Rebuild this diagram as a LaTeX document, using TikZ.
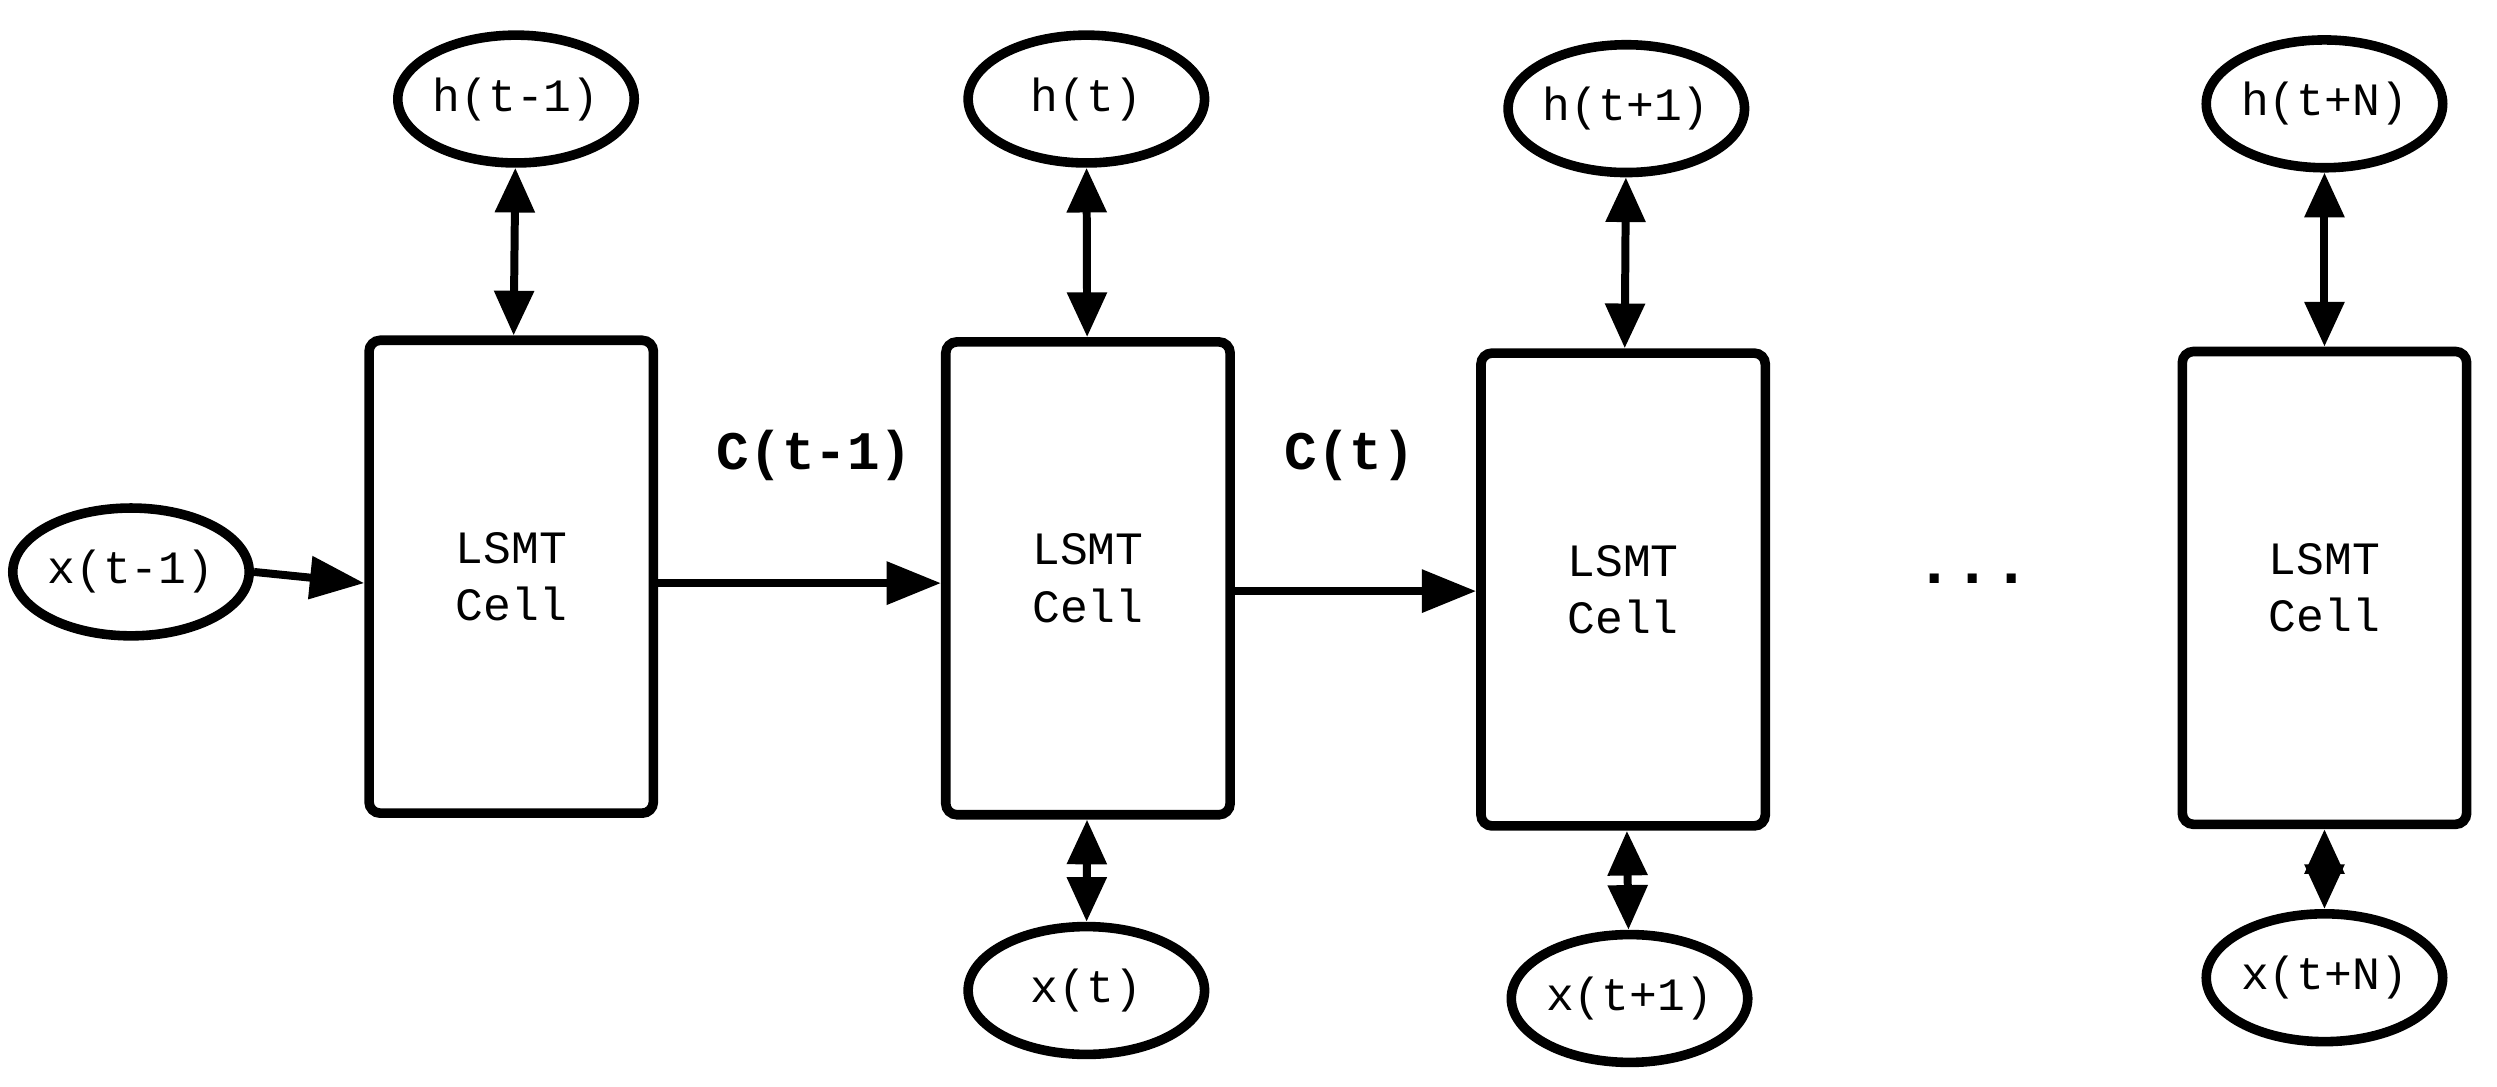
\documentclass[tikz,border=0pt]{standalone}
\usepackage{fontspec}
\setmainfont{Liberation Mono}
\usetikzlibrary{arrows.meta,shapes.geometric}
\begin{document}
\begin{tikzpicture}[x=1pt,y=-1pt,
 box/.style={draw,line width=6pt,rounded corners=7pt,minimum width=178pt,minimum height=296pt,inner sep=0,align=center,font=\fontsize{29}{36}\selectfont},
 el/.style={draw,ellipse,line width=6pt,minimum width=148pt,minimum height=80pt,inner sep=0,font=\fontsize{29}{34}\selectfont},
 ar/.style={line width=5pt,-{Triangle[length=34pt,width=26pt]}},
 dar/.style={line width=5pt,{Triangle[length=28pt,width=24pt]}-{Triangle[length=28pt,width=24pt]}},
 lab/.style={font=\bfseries\fontsize{34}{40}\selectfont}]
\useasboundingbox (0,0) rectangle (1563,680);
\node[box] (b1) at (320,361) {LSMT\\Cell};
\node[box] (b2) at (681,362) {LSMT\\Cell};
\node[box] (b3) at (1016,369) {LSMT\\Cell};
\node[box] (b4) at (1455,368) {LSMT\\Cell};
\node[el] (h1) at (323,62) {h(t-1)};
\node[el] (h2) at (680,62) {h(t)};
\node[el] (h3) at (1018,68) {h(t+1)};
\node[el] (h4) at (1455,65) {h(t+N)};
\node[el] (x2) at (680,620) {x(t)};
\node[el] (x3) at (1020,625) {x(t+1)};
\node[el] (x4) at (1455,612) {x(t+N)};
\node[el] (x1) at (82,358) {x(t-1)};
\draw[ar] (x1.east) -- (b1.west|-0,365);
\draw[ar] (b1.east|-0,365) -- (b2.west|-0,365);
\draw[ar] (b2.east|-0,370) -- (b3.west|-0,370);
\foreach \h/\b in {h1/b1,h2/b2,h3/b3,h4/b4} \draw[dar] (\h) -- (\b);
\foreach \x/\b in {x2/b2,x3/b3,x4/b4} \draw[dar] (\x) -- (\b);
\node[lab] (c1) at (510,285) {C(t-1)};
\node[lab] (c2) at (845,285) {C(t)};
\node[font=\bfseries\fontsize{40}{40}\selectfont] (dots) at (1235,362) {...};
\end{tikzpicture}
\end{document}
